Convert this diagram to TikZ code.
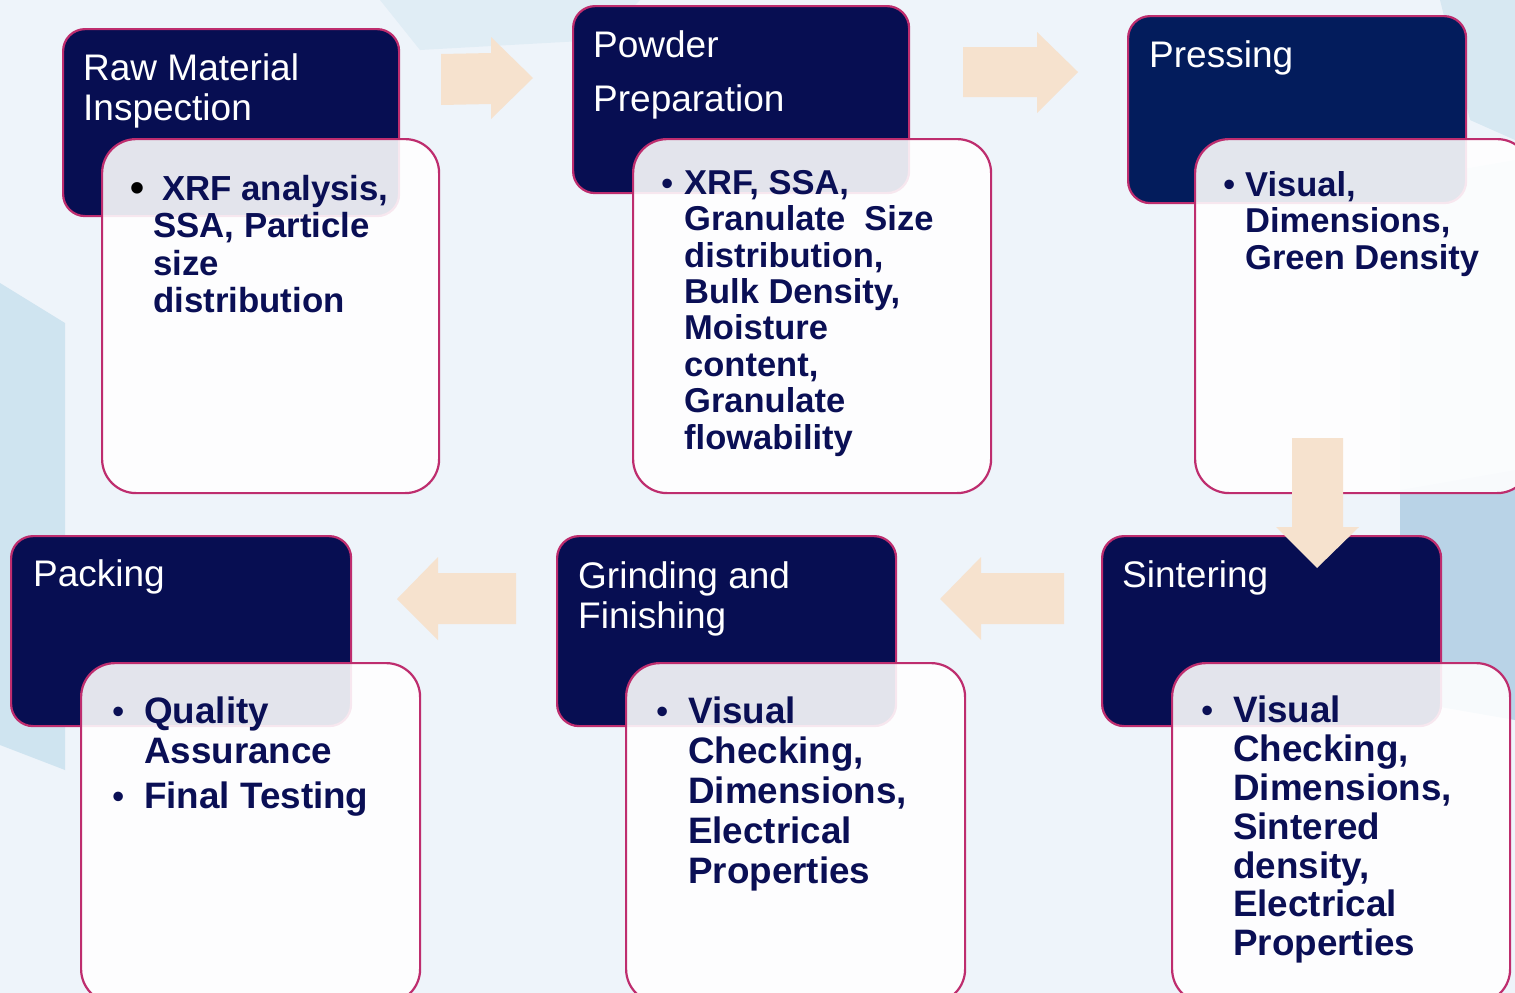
\documentclass[tikz,border=0pt]{standalone}
\usepackage{fontspec}
\setmainfont{Liberation Sans}
\definecolor{navyc}{RGB}{7,14,82}
\definecolor{navyp}{RGB}{3,28,92}
\definecolor{bordc}{RGB}{190,45,110}
\definecolor{txtc}{RGB}{10,15,85}
\definecolor{peach}{RGB}{246,226,206}
\definecolor{bgc}{RGB}{238,244,250}
\definecolor{bgblue}{RGB}{200,224,238}
\definecolor{bgblue2}{RGB}{180,208,229}
\begin{document}
\begin{tikzpicture}[x=1pt,y=-1pt,
  navybox/.style={draw=bordc, line width=2.2pt, fill=navyc, rounded corners=22pt, anchor=north west, inner sep=0pt},
  whitebox/.style={draw=bordc, line width=2.2pt, fill=white, fill opacity=0.89, rounded corners=34pt, anchor=north west, inner sep=0pt},
  titletext/.style={text=white, font=\fontsize{37}{40}\selectfont, align=left, inner sep=0pt, anchor=north west},
  bodytop/.style={text=txtc, font=\fontsize{34.5}{36.4}\selectfont\bfseries, align=left, inner sep=0pt, anchor=north west},
  bodybot/.style={text=txtc, font=\fontsize{36.8}{39.8}\selectfont\bfseries, align=left, inner sep=0pt, anchor=north west},
  bul/.style={text=txtc, font=\fontsize{35}{37}\selectfont, inner sep=0pt, anchor=base west},
  blockarrow/.style={fill=peach, draw=none}]
\useasboundingbox (0,0) rectangle (1515,993);
\clip (0,0) rectangle (1515,993);
% background
\fill[bgc] (0,0) rectangle (1515,993);
\fill[bgblue, opacity=0.8] (0,283) -- (65,323) -- (65,770) -- (0,745) -- cycle;
\fill[bgblue2, opacity=0.9] (1400,490) -- (1515,470) -- (1515,720) -- (1400,700) -- cycle;
\fill[bgblue, opacity=0.6] (1400,180) -- (1515,160) -- (1515,490) -- (1400,490) -- cycle;
\fill[bgblue, opacity=0.6] (1440,0) -- (1515,0) -- (1515,140) -- (1470,120) -- cycle;
\fill[bgblue, opacity=0.35] (380,0) -- (640,0) -- (600,40) -- (420,50) -- cycle;

% Box 1
\node[navybox, minimum width=336pt, minimum height=187pt] (n1) at (62,28) {};
\node[whitebox, minimum width=337pt, minimum height=354pt] (w1) at (101,138) {};
% Box 2
\node[navybox, minimum width=336pt, minimum height=187pt] (n2) at (572,5) {};
\node[whitebox, minimum width=358pt, minimum height=354pt] (w2) at (632,138) {};
% Box 3
\node[navybox, fill=navyp, minimum width=338pt, minimum height=187pt] (n3) at (1127,15) {};
\node[whitebox, minimum width=336pt, minimum height=354pt] (w3) at (1194,138) {};
% Box 4
\node[navybox, minimum width=340pt, minimum height=190pt] (n4) at (10,535) {};
\node[whitebox, minimum width=339pt, minimum height=340pt] (w4) at (80,662) {};
% Box 5
\node[navybox, minimum width=339pt, minimum height=190pt] (n5) at (556,535) {};
\node[whitebox, minimum width=339pt, minimum height=340pt] (w5) at (625,662) {};
% Box 6
\node[navybox, minimum width=339pt, minimum height=190pt] (n6) at (1101,535) {};
\node[whitebox, minimum width=338pt, minimum height=340pt] (w6) at (1171,662) {};

% block arrows
\fill[blockarrow] (441,54) -- (491,53) -- (491,37) -- (533,78) -- (491,119) -- (491,104) -- (441,105) -- cycle;
\fill[blockarrow] (963,47) -- (1037,47) -- (1037,32) -- (1078,72) -- (1037,113) -- (1037,97) -- (963,97) -- cycle;
\fill[blockarrow] (1292,438) -- (1343,438) -- (1343,527) -- (1359,527) -- (1317,568) -- (1276,527) -- (1292,527) -- cycle;
\fill[blockarrow] (1064,573) -- (981,573) -- (981,557) -- (940,599) -- (981,640) -- (981,624) -- (1064,624) -- cycle;
\fill[blockarrow] (516,573) -- (438,573) -- (438,557) -- (397,599) -- (438,640) -- (438,624) -- (516,624) -- cycle;

% titles
\node[titletext] (t1) at (83,53) {Raw Material\\Inspection};
\node[titletext, font=\fontsize{37}{54}\selectfont] (t2) at (593,30) {Powder\\Preparation};
\node[titletext] (t3) at (1149,40) {Pressing};
\node[titletext] (t4) at (33,559) {Packing};
\node[titletext] (t5) at (578,561) {Grinding and\\Finishing};
\node[titletext] (t6) at (1122,560) {Sintering};

% bodies
\node[bul, text=black, font=\fontsize{40}{40}\selectfont\bfseries] (b1) at (130,201) {•};
\node[bodytop, font=\fontsize{34.8}{37.3}\selectfont\bfseries] (x1) at (153,175) {\hspace*{9pt}XRF analysis,\\SSA, Particle\\size\\distribution};
\node[bul] (b2) at (661,195) {•};
\node[bodytop] (x2) at (684,170) {XRF, SSA,\\Granulate\ \ Size\\distribution,\\Bulk Density,\\Moisture\\content,\\Granulate\\flowability};
\node[bul] (b3) at (1223,196) {•};
\node[bodytop] (x3) at (1245,171) {Visual,\\Dimensions,\\Green Density};
\node[bul] (b4a) at (112,723) {•};
\node[bodybot] (x4a) at (144,697) {Quality\\Assurance};
\node[bul] (b4b) at (112,808) {•};
\node[bodybot] (x4b) at (144,782) {Final Testing};
\node[bul] (b5) at (656,723) {•};
\node[bodybot] (x5) at (688,697) {Visual\\Checking,\\Dimensions,\\Electrical\\Properties};
\node[bul] (b6) at (1201,722) {•};
\node[bodybot, font=\fontsize{36.8}{38.8}\selectfont\bfseries] (x6) at (1233,696) {Visual\\Checking,\\Dimensions,\\Sintered\\density,\\Electrical\\Properties};
\end{tikzpicture}
\end{document}
